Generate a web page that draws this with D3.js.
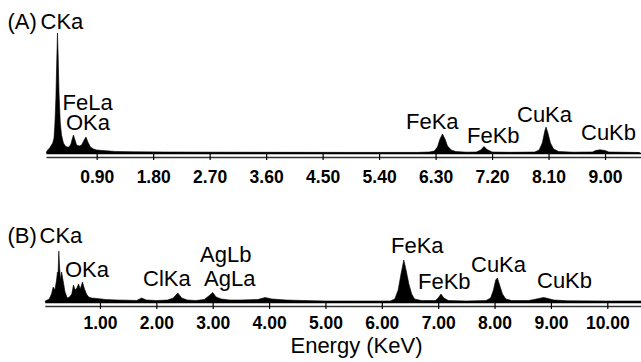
<!DOCTYPE html>
<html>
<head>
    <meta charset="utf-8">
    <script src="https://cdnjs.cloudflare.com/ajax/libs/d3/7.8.5/d3.min.js"></script>
    <style>
        body { margin: 0; background: #fff; }
        svg { display: block; font-family: "Liberation Sans", Arial, sans-serif; }
        .peak { font-size: 22px; fill: #000; }
        .tick text { font-size: 17.5px; font-weight: bold; fill: #000; }
    </style>
    <title>EDS spectra</title>
</head>
<body>
    <svg id="chart" width="641" height="362"></svg>
    <script>
        // spectrum (A): energy in keV, counts (arbitrary units)
        var energyA = [0.10, 0.12, 0.15, 0.18, 0.20, 0.22, 0.235, 0.25, 0.265, 0.275, 0.285, 0.30, 0.32, 0.34, 0.37, 0.40, 0.43,
            0.46, 0.49, 0.51, 0.53, 0.55, 0.58, 0.62, 0.66, 0.70, 0.73, 0.76, 0.80, 0.85, 0.90, 1.00, 1.20, 1.50, 2.00,
            3.00, 4.00, 5.00, 6.00, 6.20, 6.28, 6.33, 6.37, 6.41, 6.45, 6.49, 6.55, 6.62, 6.80, 6.95, 7.02, 7.07, 7.12,
            7.20, 7.50, 7.88, 7.95, 8.00, 8.04, 8.06, 8.09, 8.13, 8.18, 8.26, 8.50, 8.80, 8.85, 8.92, 9.00, 9.06, 9.55];
        var countsA = [1, 3, 5, 8, 10, 15, 30, 55, 95, 120, 100, 60, 30, 18, 10, 7, 6,
            6, 9, 14, 18, 14, 8, 7, 8, 13, 16, 11, 6, 4, 3, 2.5, 1.5, 1.2, 1,
            0.8, 0.7, 0.6, 0.6, 1, 2, 6, 14, 19, 14, 7, 3, 1.5, 0.8, 1, 3, 6.5, 3.5,
            1, 0.7, 1, 3, 10, 22, 26, 20, 10, 4, 1.5, 0.8, 1, 2.5, 3.2, 2.5, 1, 0.5];

        // spectrum (B)
        var energyB = [0.03, 0.10, 0.14, 0.17, 0.20, 0.23, 0.245, 0.255, 0.27, 0.285, 0.30, 0.32, 0.35, 0.38, 0.42, 0.46,
            0.50, 0.53, 0.56, 0.59, 0.62, 0.65, 0.69, 0.72, 0.76, 0.80, 0.85, 0.95, 1.10, 1.30, 1.50, 1.65, 1.74, 1.82,
            2.00, 2.20, 2.30, 2.38, 2.45, 2.55, 2.70, 2.85, 2.93, 3.00, 3.06, 3.15, 3.30, 3.50, 3.80, 3.93, 4.05, 4.30,
            4.60, 5.00, 5.50, 6.00, 6.15, 6.23, 6.29, 6.34, 6.39, 6.43, 6.48, 6.53, 6.58, 6.70, 6.95, 7.00, 7.05, 7.10,
            7.18, 7.50, 7.85, 7.93, 7.98, 8.02, 8.05, 8.09, 8.14, 8.20, 8.30, 8.60, 8.70, 8.87, 8.95, 9.05, 9.30, 10.00, 10.60];
        var countsB = [1, 3, 8, 15, 12, 22, 30, 26, 51, 34, 22, 30, 20, 10, 4, 5,
            8, 17, 12, 14, 18, 13, 20, 14, 8, 5, 4, 3.5, 2.5, 2, 1.8, 1.5, 4, 2,
            1.5, 2, 4, 9, 4, 2, 1.5, 2.5, 6, 9.5, 5, 3, 2, 2, 2.5, 4.5, 3, 2,
            1.5, 1, 1, 1, 1, 3, 12, 28, 42, 32, 18, 8, 3, 1.5, 1.5, 4, 8, 4,
            1.5, 1, 1.5, 4, 12, 22, 24, 17, 8, 3, 1.5, 1.5, 2.5, 4.5, 3.5, 2, 1.2, 1, 1];

        var ticksA = [0.90, 1.80, 2.70, 3.60, 4.50, 5.40, 6.30, 7.20, 8.10, 9.00];
        var ticksB = [1, 2, 3, 4, 5, 6, 7, 8, 9, 10];

        var peakNamesA = ["CKa", "FeLa", "OKa", "FeKa", "FeKb", "CuKa", "CuKb"];
        var peakNamesB = ["CKa", "OKa", "ClKa", "AgLb", "AgLa", "FeKa", "FeKb", "CuKa", "CuKb"];

        // label placement (left x, baseline y) in pixels
        var labelPosA = [[40.5, 29], [62.5, 110], [66, 130], [406, 129], [467, 143], [517, 122], [581, 140]];
        var labelPosB = [[39.5, 242.5], [65, 276.5], [143, 286], [200, 261.5], [204, 286], [391, 252.5], [418, 289], [471, 271.5], [537, 288]];

        var svg = d3.select("#chart");

        function drawPanel(opts) {
            var x = d3.scaleLinear().domain([0, 1]).range([opts.x0, opts.x0 + opts.pxPerKeV]);
            var y = d3.scaleLinear().domain([0, 100]).range([opts.base, opts.base - 100]);

            var pts = opts.energy.map(function(e, i) { return [e, opts.counts[i]]; });
            var area = d3.area()
                .x(function(d) { return x(d[0]); })
                .y0(y(0))
                .y1(function(d) { return y(d[1]); });

            svg.append("path")
                .datum(pts)
                .attr("d", area)
                .attr("fill", "#000")
                .attr("stroke", "#000")
                .attr("stroke-width", 0.6);

            // double axis line
            var xl = x(opts.domain[0]), xr = x(opts.domain[1]);
            svg.append("line").attr("x1", xl).attr("x2", xr)
                .attr("y1", opts.base + 0.5).attr("y2", opts.base + 0.5)
                .attr("stroke", "#000").attr("stroke-width", 1.5);
            svg.append("line").attr("x1", xl).attr("x2", xr)
                .attr("y1", opts.base + 4.5).attr("y2", opts.base + 4.5)
                .attr("stroke", "#333").attr("stroke-width", 1.5);

            var axis = d3.axisBottom(x)
                .tickValues(opts.ticks)
                .tickFormat(d3.format(".2f"))
                .tickSize(7)
                .tickSizeOuter(0);

            var g = svg.append("g")
                .attr("transform", "translate(0," + opts.base + ")")
                .call(axis);
            g.select(".domain").remove();
            g.selectAll(".tick line").attr("stroke", "#000").attr("stroke-width", 1.2);
            g.selectAll(".tick text")
                .attr("y", opts.labelDy)
                .attr("dy", 0)
                .attr("font-family", null)
                .attr("font-size", null);

            opts.names.forEach(function(n, i) {
                svg.append("text")
                    .attr("class", "peak")
                    .attr("x", opts.pos[i][0])
                    .attr("y", opts.pos[i][1])
                    .text(n);
            });

            svg.append("text")
                .attr("class", "peak")
                .attr("x", 7.5)
                .attr("y", opts.pos[0][1])
                .text(opts.tag);
        }

        drawPanel({
            energy: energyA, counts: countsA, ticks: ticksA,
            names: peakNamesA, pos: labelPosA, tag: "(A)",
            x0: 40.2, pxPerKeV: 62.76, base: 153, domain: [0.1, 9.6], labelDy: 30
        });

        drawPanel({
            energy: energyB, counts: countsB, ticks: ticksB,
            names: peakNamesB, pos: labelPosB, tag: "(B)",
            x0: 43.6, pxPerKeV: 56.37, base: 302, domain: [0.03, 10.65], labelDy: 27.3
        });

        svg.append("text")
            .attr("class", "peak")
            .attr("x", 356.5)
            .attr("y", 353)
            .attr("text-anchor", "middle")
            .text("Energy (KeV)");
    </script>
</body>
</html>
